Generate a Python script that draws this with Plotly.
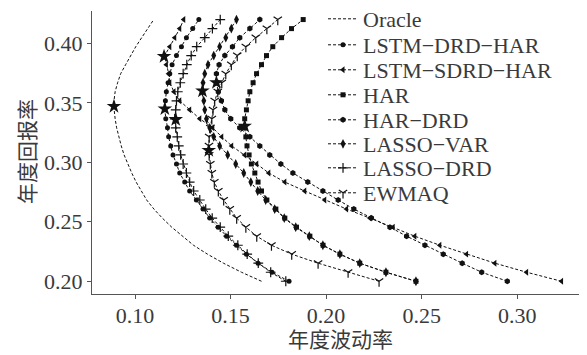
import plotly.graph_objects as go

# target annual returns (y), 30 frontier points
returns = [0.2000, 0.2076, 0.2152, 0.2228, 0.2303, 0.2379, 0.2455, 0.2531, 0.2607, 0.2683,
           0.2759, 0.2834, 0.2910, 0.2986, 0.3062, 0.3138, 0.3214, 0.3290, 0.3366, 0.3441,
           0.3517, 0.3593, 0.3669, 0.3745, 0.3821, 0.3897, 0.3972, 0.4048, 0.4124, 0.4200]

oracle = [0.1662, 0.1557, 0.1463, 0.1379, 0.1306, 0.1246, 0.1192, 0.1143, 0.1099, 0.1061,
          0.1032, 0.1006, 0.0983, 0.0962, 0.0943, 0.0928, 0.0915, 0.0904, 0.0896, 0.0891,
          0.0890, 0.0896, 0.0909, 0.0925, 0.0951, 0.0977, 0.1004, 0.1035, 0.1066, 0.1098]
lstm_drd_har = [0.1806, 0.1717, 0.1644, 0.1583, 0.1531, 0.1479, 0.1435, 0.1391, 0.1356, 0.1321,
                0.1286, 0.1260, 0.1234, 0.1217, 0.1199, 0.1187, 0.1176, 0.1170, 0.1161, 0.1155,
                0.1159, 0.1164, 0.1173, 0.1182, 0.1194, 0.1217, 0.1243, 0.1269, 0.1302, 0.1334]
lstm_sdrd_har = [0.3232, 0.3049, 0.2883, 0.2735, 0.2595, 0.2464, 0.2351, 0.2229, 0.2107, 0.1993,
                 0.1888, 0.1784, 0.1700, 0.1637, 0.1574, 0.1506, 0.1454, 0.1407, 0.1339, 0.1286,
                 0.1234, 0.1204, 0.1182, 0.1176, 0.1164, 0.1155, 0.1182, 0.1208, 0.1234, 0.1255]
har = [0.2470, 0.2313, 0.2176, 0.2072, 0.1984, 0.1915, 0.1845, 0.1784, 0.1737, 0.1690,
       0.1662, 0.1644, 0.1627, 0.1609, 0.1597, 0.1586, 0.1580, 0.1574, 0.1574, 0.1583,
       0.1592, 0.1601, 0.1618, 0.1636, 0.1662, 0.1688, 0.1721, 0.1767, 0.1819, 0.1880]
har_drd = [0.2948, 0.2814, 0.2712, 0.2613, 0.2517, 0.2421, 0.2334, 0.2237, 0.2145, 0.2063,
           0.1983, 0.1904, 0.1826, 0.1763, 0.1705, 0.1653, 0.1601, 0.1548, 0.1501, 0.1470,
           0.1452, 0.1436, 0.1426, 0.1426, 0.1440, 0.1470, 0.1510, 0.1548, 0.1601, 0.1653]
lasso_var = [0.2470, 0.2313, 0.2176, 0.2072, 0.1983, 0.1912, 0.1841, 0.1781, 0.1731, 0.1684,
             0.1642, 0.1606, 0.1569, 0.1527, 0.1485, 0.1443, 0.1412, 0.1391, 0.1374, 0.1365,
             0.1360, 0.1353, 0.1356, 0.1365, 0.1382, 0.1412, 0.1443, 0.1475, 0.1504, 0.1531]
lasso_drd = [0.1789, 0.1710, 0.1645, 0.1587, 0.1538, 0.1488, 0.1446, 0.1404, 0.1370, 0.1339,
             0.1307, 0.1286, 0.1269, 0.1252, 0.1239, 0.1229, 0.1221, 0.1213, 0.1208, 0.1213,
             0.1217, 0.1224, 0.1237, 0.1252, 0.1271, 0.1294, 0.1323, 0.1365, 0.1405, 0.1446]
ewmaq = [0.2277, 0.2115, 0.1958, 0.1820, 0.1714, 0.1637, 0.1580, 0.1532, 0.1496, 0.1464,
         0.1436, 0.1415, 0.1402, 0.1394, 0.1388, 0.1387, 0.1388, 0.1394, 0.1402, 0.1408,
         0.1417, 0.1433, 0.1454, 0.1475, 0.1504, 0.1535, 0.1580, 0.1632, 0.1690, 0.1747]

# starred points (one per frontier)
star_x = [0.0890, 0.1156, 0.1152, 0.1574, 0.1426, 0.1353, 0.1213, 0.1386]
star_y = [0.3470, 0.3450, 0.3890, 0.3304, 0.3670, 0.3600, 0.3360, 0.3100]

series_names = ["Oracle", "LSTM−DRD−HAR", "LSTM−SDRD−HAR", "HAR", "HAR−DRD",
                "LASSO−VAR", "LASSO−DRD", "EWMAQ"]
series_vals = [oracle, lstm_drd_har, lstm_sdrd_har, har, har_drd, lasso_var, lasso_drd, ewmaq]
symbols = [None, "circle", "triangle-left", "square", "hexagon", "diamond-tall", "cross-thin", "y-down"]
sizes = [0, 5, 6, 5, 6, 7, 7, 7]

x_ticks = [0.10, 0.15, 0.20, 0.25, 0.30]
y_ticks = [0.20, 0.25, 0.30, 0.35, 0.40]

INK = "#111111"
TXT = "#3a3a3a"
FONT = "Liberation Serif, Noto Sans CJK SC, serif"

# page body has an 8px margin, so the figure is drawn at (8, 8) in the window
OFF = 8
W, H = 587 - OFF, 355 - OFF
ML, MR, MT, MB = 84, 0, 3, 61
PH = H - MT - MB
PW = W - ML - MR

# legend rows (page-pixel centres of each entry in the reference)
legend_rows = [19, 45, 70, 95, 120, 144, 168, 193]

fig = go.Figure()
for i, (name, vals, sym, sz) in enumerate(zip(series_names, series_vals, symbols, sizes)):
    lg = "legend" if i == 0 else f"legend{i + 1}"
    if sym is None:
        fig.add_trace(go.Scatter(x=vals, y=returns, mode="lines", name=name, legend=lg,
                                 line=dict(color=INK, width=1, dash="3px,2px")))
    else:
        thin = sym in ("cross-thin", "y-down")
        fig.add_trace(go.Scatter(
            x=vals, y=returns, mode="lines+markers", name=name, legend=lg,
            line=dict(color=INK, width=1, dash="3px,2px"),
            marker=dict(symbol=sym, size=sz, color=INK,
                        line=dict(color=INK, width=1.2 if thin else 0))))

fig.add_trace(go.Scatter(x=star_x, y=star_y, mode="markers", showlegend=False,
                         marker=dict(symbol="star", size=11, color=INK, line=dict(width=0))))

layout_legends = {}
for i, py in enumerate(legend_rows):
    key = "legend" if i == 0 else f"legend{i + 1}"
    layout_legends[key] = dict(
        x=0.4667, y=1 - (py - OFF - MT) / PH, xanchor="left", yanchor="middle",
        bgcolor="rgba(0,0,0,0)", font=dict(size=22, color=TXT, family=FONT),
        itemwidth=30)

fig.update_layout(
    width=W, height=H,
    margin=dict(l=ML, r=MR, t=MT, b=MB, autoexpand=False),
    paper_bgcolor="white", plot_bgcolor="white",
    font=dict(family=FONT, size=22, color=TXT),
    showlegend=True,
    xaxis=dict(range=[0.0775, 0.3365], tickvals=x_ticks, ticktext=[f"{v:.2f}" for v in x_ticks],
               showline=True, linecolor="#555", linewidth=1, ticks="outside", ticklen=4,
               tickcolor="#555", showgrid=False, zeroline=False, automargin=False,
               ticklabelstandoff=-2),
    yaxis=dict(range=[0.1893, 0.4272], tickvals=y_ticks, ticktext=[f"{v:.2f}" for v in y_ticks],
               showline=True, linecolor="#555", linewidth=1, ticks="outside", ticklen=4,
               tickcolor="#555", showgrid=False, zeroline=False, automargin=False),
    annotations=[
        dict(text="年度波动率", xref="paper", yref="paper",
             x=(340 - OFF - ML) / PW, y=(H - MB - (340 - OFF)) / PH,
             xanchor="center", yanchor="middle", showarrow=False,
             font=dict(size=21, color=TXT, family=FONT)),
        dict(text="年度回报率", xref="paper", yref="paper",
             x=(28 - OFF - ML) / PW, y=(H - MB - (152 - OFF)) / PH,
             xanchor="center", yanchor="middle", showarrow=False, textangle=-90,
             font=dict(size=21, color=TXT, family=FONT)),
    ],
    **layout_legends,
)

fig.write_html("out.html")
